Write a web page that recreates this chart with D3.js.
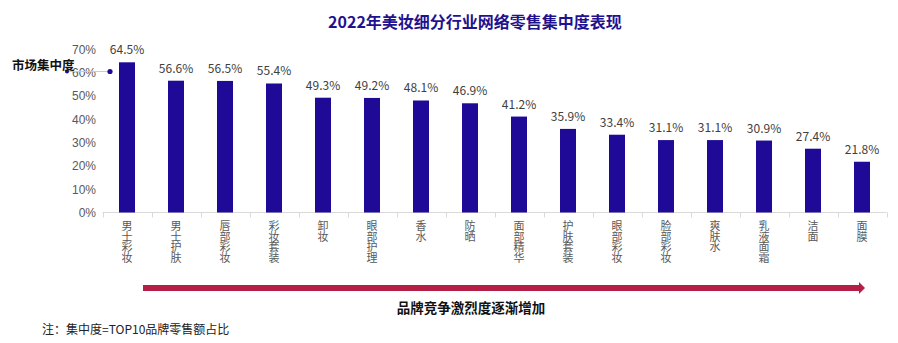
<!DOCTYPE html>
<html>
<head>
<meta charset="utf-8">
<script src="https://cdn.jsdelivr.net/npm/d3@7/dist/d3.min.js"></script>
<style>
  html, body { margin: 0; padding: 0; background: #fff; }
  svg { display: block; font-family: "Noto Sans CJK SC", "Noto Sans", sans-serif; }
  .vlabel { writing-mode: vertical-rl; text-orientation: upright; }
</style>
</head>
<body>
<svg id="chart" width="898" height="343"></svg>
<script>
// Online retail concentration (top-10 brand share) by beauty sub-category, 2022
const categories = ["男士彩妆", "男士护肤", "唇部彩妆", "彩妆套装", "卸妆", "眼部护理", "香水", "防晒",
                    "面部精华", "护肤套装", "眼部彩妆", "脸部彩妆", "爽肤水", "乳液面霜", "洁面", "面膜"];
const concentration = [64.5, 56.6, 56.5, 55.4, 49.3, 49.2, 48.1, 46.9, 41.2, 35.9, 33.4, 31.1, 31.1, 30.9, 27.4, 21.8];
const yTicks = [0, 10, 20, 30, 40, 50, 60, 70];

const titleText = "2022年美妆细分行业网络零售集中度表现";
const seriesName = "市场集中度";
const arrowText = "品牌竞争激烈度逐渐增加";
const noteText = "注：集中度=TOP10品牌零售额占比";

const svg = d3.select("#chart");
const barColor = "#1e0a96";

const x = d3.scaleBand().domain(categories).range([102.5, 886.5]).paddingInner(0).paddingOuter(0);
const y = d3.scaleLinear().domain([0, 70]).range([212.5, 49.5]);
const barW = 16;

// title
svg.append("text")
  .attr("x", 475).attr("y", 28)
  .attr("text-anchor", "middle")
  .attr("font-size", 16).attr("font-weight", "bold")
  .attr("fill", "#1f128f")
  .text(titleText);

// y axis labels (no axis line)
const yAxis = d3.axisLeft(y).tickValues(yTicks).tickFormat(d => d + "%").tickSize(0).tickPadding(0);
const yg = svg.append("g").attr("transform", "translate(96,0)").call(yAxis);
yg.select(".domain").remove();
yg.selectAll("text").attr("font-size", 12).attr("fill", "#595959").attr("font-family", "inherit");

// x axis baseline with tick marks at band edges
const xg = svg.append("g").attr("transform", `translate(0,${y(0)})`);
xg.append("line")
  .attr("x1", x.range()[0]).attr("x2", x.range()[1])
  .attr("stroke", "#d9d9d9").attr("stroke-width", 1);
const edges = categories.map(c => x(c)).concat([x.range()[1]]);
xg.selectAll(".tk").data(edges).join("line")
  .attr("class", "tk")
  .attr("x1", d => Math.round(d) + 0.5).attr("x2", d => Math.round(d) + 0.5)
  .attr("y1", 0).attr("y2", 5)
  .attr("stroke", "#d9d9d9");

// vertical category labels, written top to bottom
svg.append("g").selectAll("text").data(categories).join("text")
  .attr("class", "vlabel")
  .attr("x", d => x(d) + x.bandwidth() / 2)
  .attr("y", 220.5)
  .attr("font-size", 11)
  .attr("letter-spacing", -0.4)
  .attr("fill", "#595959")
  .text(d => d);

// bars
svg.append("g").selectAll("rect").data(categories).join("rect")
  .attr("x", d => x(d) + x.bandwidth() / 2 - barW / 2)
  .attr("y", (d, i) => y(concentration[i]))
  .attr("width", barW)
  .attr("height", (d, i) => y(0) - y(concentration[i]))
  .attr("fill", barColor);

// value labels
svg.append("g").selectAll("text").data(categories).join("text")
  .attr("x", d => x(d) + x.bandwidth() / 2)
  .attr("y", (d, i) => y(concentration[i]) - 8)
  .attr("text-anchor", "middle")
  .attr("font-size", 12)
  .attr("fill", "#404040")
  .text((d, i) => concentration[i].toFixed(1) + "%");

// series label with marker
svg.append("line")
  .attr("x1", 67).attr("x2", 108).attr("y1", 71.5).attr("y2", 71.5)
  .attr("stroke", "#c9c9e6").attr("stroke-width", 1);
svg.append("circle").attr("cx", 67).attr("cy", 71.5).attr("r", 2).attr("fill", barColor);
svg.append("circle").attr("cx", 110).attr("cy", 71.5).attr("r", 2.6).attr("fill", barColor);
svg.append("text")
  .attr("x", 12).attr("y", 70)
  .attr("font-size", 12.5).attr("font-weight", "bold")
  .attr("fill", "#111")
  .text(seriesName);

// arrow indicating increasing competition
const arrowColor = "#b51f45";
svg.append("rect")
  .attr("x", 143).attr("y", 285).attr("width", 717).attr("height", 6)
  .attr("fill", arrowColor);
svg.append("path")
  .attr("d", "M859,282 L865,288 L859,294 Z")
  .attr("fill", arrowColor);
svg.append("text")
  .attr("x", 471).attr("y", 313)
  .attr("text-anchor", "middle")
  .attr("font-size", 13.5).attr("font-weight", "bold")
  .attr("fill", "#111")
  .text(arrowText);

// footnote
svg.append("text")
  .attr("x", 42).attr("y", 334)
  .attr("font-size", 12)
  .attr("fill", "#222")
  .text(noteText);
</script>
</body>
</html>
